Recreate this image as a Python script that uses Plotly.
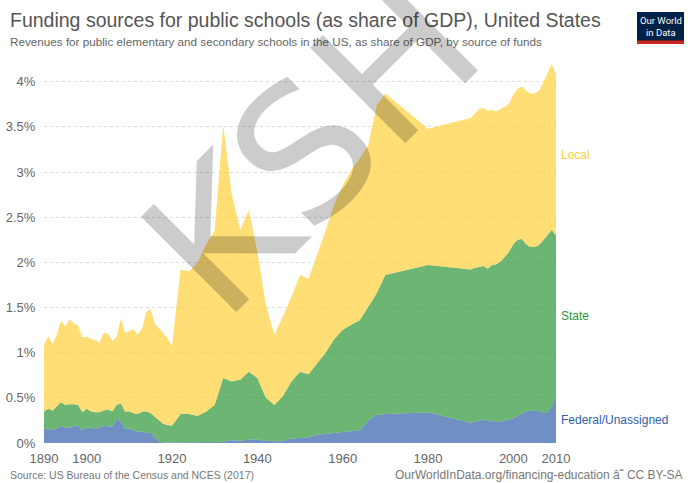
import plotly.graph_objects as go

# Revenues for public elementary and secondary schools, % of GDP, by source
years = [1890, 1891, 1892, 1893, 1894, 1895, 1896, 1897, 1898, 1899,
         1900, 1901, 1902, 1903, 1904, 1905, 1906, 1907, 1908, 1909,
         1910, 1911, 1912, 1913, 1914, 1915, 1916, 1917, 1918, 1919,
         1920, 1922, 1924, 1926, 1928, 1930, 1932, 1934, 1936, 1938,
         1940, 1942, 1944, 1946, 1948, 1950, 1952, 1954, 1956, 1958,
         1960, 1962, 1964, 1966, 1968, 1970, 1980, 1990, 1991, 1992,
         1993, 1994, 1995, 1996, 1997, 1998, 1999, 2000, 2001, 2002,
         2003, 2004, 2005, 2006, 2007, 2008, 2009, 2010]

federal = [0.155, 0.16, 0.145, 0.16, 0.19, 0.17, 0.17, 0.19, 0.19, 0.14,
           0.17, 0.17, 0.155, 0.17, 0.19, 0.185, 0.18, 0.26, 0.24, 0.155,
           0.16, 0.14, 0.125, 0.13, 0.11, 0.11, 0.06, 0.015, 0.005, 0.005,
           0.005, 0.005, 0.005, 0.005, 0.005, 0.01, 0.015, 0.03, 0.025, 0.04,
           0.04, 0.025, 0.02, 0.02, 0.05, 0.055, 0.06, 0.09, 0.10, 0.11,
           0.125, 0.13, 0.14, 0.25, 0.31, 0.32, 0.34, 0.225, 0.235, 0.25,
           0.26, 0.25, 0.24, 0.24, 0.235, 0.25, 0.26, 0.27, 0.30, 0.33,
           0.355, 0.36, 0.36, 0.355, 0.33, 0.34, 0.40, 0.52]

state = [0.195, 0.22, 0.215, 0.25, 0.26, 0.25, 0.26, 0.24, 0.23, 0.20,
         0.21, 0.18, 0.185, 0.17, 0.17, 0.185, 0.17, 0.16, 0.20, 0.195,
         0.19, 0.19, 0.195, 0.22, 0.24, 0.22, 0.23, 0.235, 0.205, 0.195,
         0.185, 0.315, 0.315, 0.295, 0.345, 0.41, 0.705, 0.65, 0.675, 0.75,
         0.68, 0.475, 0.40, 0.50, 0.63, 0.735, 0.70, 0.79, 0.90, 1.04,
         1.125, 1.18, 1.22, 1.26, 1.35, 1.54, 1.63, 1.695, 1.705, 1.70,
         1.70, 1.68, 1.73, 1.74, 1.775, 1.81, 1.86, 1.93, 1.95, 1.93,
         1.845, 1.81, 1.81, 1.835, 1.91, 1.96, 1.96, 1.78]

local = [0.74, 0.80, 0.74, 0.79, 0.90, 0.87, 0.94, 0.89, 0.88, 0.83,
         0.80, 0.80, 0.80, 0.77, 0.86, 0.84, 0.78, 0.75, 0.94, 0.87,
         0.89, 0.93, 0.88, 0.92, 1.10, 1.15, 1.03, 1.02, 1.01, 0.96,
         0.88, 1.60, 1.58, 1.70, 1.85, 1.93, 2.80, 2.08, 1.66, 1.79,
         1.40, 1.03, 0.78, 0.88, 0.94, 1.07, 1.06, 1.20, 1.35, 1.49,
         1.60, 1.71, 1.79, 1.79, 2.08, 2.01, 1.51, 1.68, 1.71, 1.75,
         1.75, 1.75, 1.72, 1.69, 1.69, 1.66, 1.64, 1.66, 1.67, 1.69,
         1.70, 1.70, 1.70, 1.71, 1.75, 1.80, 1.84, 1.78]

series_names = ["Federal/Unassigned", "State", "Local"]
series_values = [federal, state, local]
base_colors = ["#3360a9", "#2e9537", "#fed03b"]
fill_colors = ["rgba(51,96,169,0.7)", "rgba(46,149,55,0.7)", "rgba(254,208,59,0.7)"]

x_ticks = [1890, 1900, 1920, 1940, 1960, 1980, 2000, 2010]
y_ticks = [0, 0.5, 1, 1.5, 2, 2.5, 3, 3.5, 4]
y_tick_text = ["0%", "0.5%", "1%", "1.5%", "2%", "2.5%", "3%", "3.5%", "4%"]

title = "Funding sources for public schools (as share of GDP), United States"
subtitle = ("Revenues for public elementary and secondary schools in the US, "
            "as share of GDP, by source of funds")
source = "Source: US Bureau of the Census and NCES (2017)"
credit = "OurWorldInData.org/financing-education â˜ CC BY-SA"

W, H = 688, 483
ML, MR, MT, MB = 44, 132, 62, 40
PW, PH = W - ML - MR, H - MT - MB
FONT = "Liberation Sans, Arial, Helvetica, sans-serif"


def px(x):
    return (x - ML) / PW


def py(y):
    return (H - MB - y) / PH


fig = go.Figure()
for name, vals, fc in zip(series_names, series_values, fill_colors):
    fig.add_trace(go.Scatter(
        x=years, y=vals, name=name, stackgroup="one",
        mode="lines", line=dict(width=0), fillcolor=fc,
        hoverinfo="x+y+name",
    ))

annotations = []

# series labels at the middle of each band in the final year
running = 0.0
for name, vals, col in zip(series_names, series_values, base_colors):
    mid = running + vals[-1] / 2
    running += vals[-1]
    annotations.append(dict(
        x=years[-1], y=mid, xref="x", yref="y", text=name, showarrow=False,
        xanchor="left", yanchor="middle", xshift=3,
        font=dict(family=FONT, size=12, color=col),
    ))

annotations += [
    dict(x=px(8), y=py(20), xref="paper", yref="paper", text=title,
         showarrow=False, xanchor="left", yanchor="middle",
         font=dict(family=FONT, size=19.5, color="#555555")),
    dict(x=px(8), y=py(42), xref="paper", yref="paper", text=subtitle,
         showarrow=False, xanchor="left", yanchor="middle",
         font=dict(family=FONT, size=11.7, color="#666666")),
    dict(x=px(8), y=py(475), xref="paper", yref="paper", text=source,
         showarrow=False, xanchor="left", yanchor="middle",
         font=dict(family=FONT, size=10.5, color="#777777")),
    dict(x=px(684), y=py(475), xref="paper", yref="paper", text=credit,
         showarrow=False, xanchor="right", yanchor="middle",
         font=dict(family=FONT, size=12, color="#777777")),
    # logo text
    dict(x=px(660.5), y=py(20.5), xref="paper", yref="paper", text="Our World",
         showarrow=False, xanchor="center", yanchor="middle",
         font=dict(family="Roboto, " + FONT, size=9.5, color="white")),
    dict(x=px(660.5), y=py(32.5), xref="paper", yref="paper", text="in Data",
         showarrow=False, xanchor="center", yanchor="middle",
         font=dict(family="Roboto, " + FONT, size=9.5, color="white")),
    # watermark
    dict(x=px(312), y=py(146), xref="paper", yref="paper", text="KSH",
         showarrow=False, xanchor="center", yanchor="middle", textangle=-45,
         font=dict(family="DejaVu Sans, sans-serif", size=185,
                   color="rgba(0,0,0,0.2)")),
]

shapes = [
    dict(type="rect", xref="paper", yref="paper",
         x0=px(637), x1=px(684), y0=py(44), y1=py(12),
         fillcolor="#002147", line=dict(width=0), layer="above"),
    dict(type="rect", xref="paper", yref="paper",
         x0=px(637), x1=px(684), y0=py(44), y1=py(40.5),
         fillcolor="#ce261e", line=dict(width=0), layer="above"),
]

fig.update_layout(
    width=W, height=H,
    margin=dict(l=ML, r=MR, t=MT, b=MB, pad=0),
    paper_bgcolor="white", plot_bgcolor="white",
    showlegend=False,
    font=dict(family=FONT, color="#666666"),
    annotations=annotations, shapes=shapes,
    xaxis=dict(
        range=[1890, 2010], tickvals=x_ticks, ticktext=[str(v) for v in x_ticks],
        showgrid=False, zeroline=False, showline=False, automargin=False,
        ticks="outside", ticklen=3, tickcolor="rgba(0,0,0,0)",
        tickfont=dict(family=FONT, size=13, color="#666666"),
    ),
    yaxis=dict(
        range=[0, 4.219], tickvals=y_ticks, ticktext=y_tick_text,
        showgrid=True, gridcolor="#dddddd", griddash="3px,3px", gridwidth=1,
        zeroline=False, showline=False, automargin=False,
        ticks="outside", ticklen=5, tickcolor="rgba(0,0,0,0)",
        tickfont=dict(family=FONT, size=13, color="#666666"),
    ),
)

fig.write_html("out.html")
